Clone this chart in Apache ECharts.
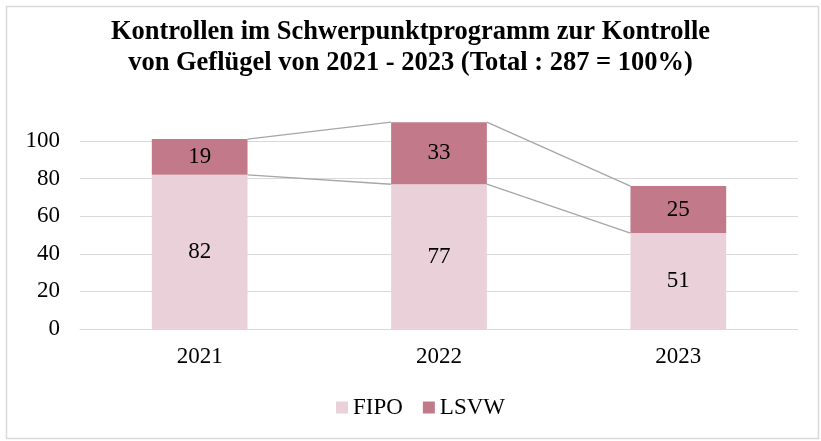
<!DOCTYPE html>
<html>
<head>
<meta charset="utf-8">
<script src="https://cdn.jsdelivr.net/npm/echarts@6/dist/echarts.min.js"></script>
<style>
	html, body { margin: 0; padding: 0; background: #fff; }
	#main { width: 821px; height: 441px; }
</style>
</head>
<body>
<div id="main"></div>
<script>
	var years = ['2021', '2022', '2023'];
	var fipo = [82, 77, 51];
	var lsvw = [19, 33, 25];
	var colorList = ['#ead1d9', '#c27a8a'];
	var serif = '"Liberation Serif", "Times New Roman", serif';

	/* Verbindungslinien zwischen den Säulen */
	function createLineData() {
		var result = [];
		for (var i = 0; i < years.length - 1; i++) {
			result.push([i, fipo[i], fipo[i + 1]]);
			result.push([i, fipo[i] + lsvw[i], fipo[i + 1] + lsvw[i + 1]]);
		}
		return result;
	}

	var textFont = {
		fontFamily: serif,
		fontSize: 23,
		color: '#000'
	};

	var option = {
		backgroundColor: '#fff',
		animation: false,
		title: {
			text: 'Kontrollen im Schwerpunktprogramm zur Kontrolle\nvon Geflügel von 2021 - 2023 (Total : 287 = 100%)',
			left: 'center',
			top: 12,
			textStyle: {
				fontFamily: serif,
				fontWeight: 'bold',
				fontSize: 26.5,
				lineHeight: 31,
				color: '#000'
			}
		},
		legend: {
			bottom: 17,
			left: 331,
			itemWidth: 12,
			itemHeight: 12,
			itemGap: 20,
			icon: 'rect',
			data: ['FIPO', 'LSVW'],
			textStyle: {
				fontFamily: serif,
				fontSize: 23,
				color: '#000',
				padding: [0, 0, 0, 0]
			}
		},
		grid: {
			left: 80,
			right: 23,
			top: 141,
			bottom: 112
		},
		xAxis: {
			type: 'category',
			data: years,
			axisTick: { show: false },
			axisLine: { lineStyle: { color: '#d9d9d9', width: 1 } },
			axisLabel: Object.assign({ margin: 16 }, textFont)
		},
		yAxis: {
			type: 'value',
			min: 0,
			max: 100,
			interval: 20,
			axisLine: { show: false },
			axisTick: { show: false },
			splitLine: { lineStyle: { color: '#d9d9d9', width: 1 } },
			axisLabel: Object.assign({ margin: 20 }, textFont)
		},
		series: [{
			name: 'FIPO',
			type: 'bar',
			stack: 'total',
			barWidth: '40%',
			clip: false,
			itemStyle: { color: colorList[0] },
			label: Object.assign({ show: true, position: 'inside' }, textFont),
			data: fipo
		}, {
			name: 'LSVW',
			type: 'bar',
			stack: 'total',
			barWidth: '40%',
			clip: false,
			itemStyle: { color: colorList[1] },
			label: Object.assign({ show: true, position: 'inside' }, textFont),
			data: lsvw
		}, {
			type: 'custom',
			silent: true,
			clip: false,
			encode: { x: 0, y: 1 },
			renderItem: function(params, api) {
				var i = api.value(0);
				var half = api.size([1, 0])[0] * 0.2;
				var p1 = api.coord([i, api.value(1)]);
				var p2 = api.coord([i + 1, api.value(2)]);
				return {
					type: 'line',
					shape: { x1: p1[0] + half, y1: p1[1], x2: p2[0] - half, y2: p2[1] },
					style: { stroke: '#a6a6a6', lineWidth: 1.3 }
				};
			},
			data: createLineData()
		}],
		graphic: [{
			type: 'rect',
			left: 4,
			top: 4,
			shape: { width: 812, height: 432 },
			style: { fill: 'none', stroke: '#d9d9d9', lineWidth: 1.5 },
			silent: true
		}]
	};

	var Chart = echarts.init(document.getElementById('main'));
	Chart.setOption(option);
</script>
</body>
</html>
